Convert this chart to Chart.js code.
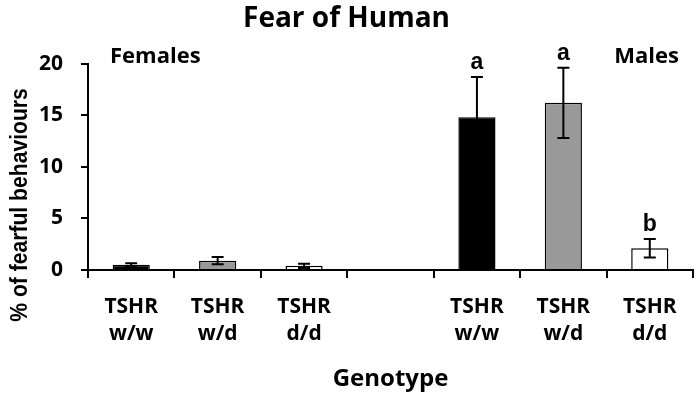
<!DOCTYPE html>
<html><head><meta charset="utf-8">
<script src="https://cdn.jsdelivr.net/npm/chart.js@4.4.0/dist/chart.umd.min.js"></script>
<style>html,body{margin:0;padding:0;background:#fff}#wrap{width:700px;height:402px}</style>
</head><body><div id="wrap"><canvas id="c"></canvas></div>
<script>
const categories = [["TSHR","w/w"],["TSHR","w/d"],["TSHR","d/d"],"",["TSHR","w/w"],["TSHR","w/d"],["TSHR","d/d"]];
const values = [0.5, 0.9, 0.4, null, 14.8, 16.2, 2.1];
const errors = [0.15, 0.35, 0.2, null, 3.9, 3.4, 0.9];
const sigLetters = ["", "", "", "", "a", "a", "b"];
const barColors = ["#000000", "#999999", "#ffffff", "#ffffff", "#000000", "#999999", "#ffffff"];
const groupLabels = ["Females", "Males"];
const yTitle = "% of fearful behaviours";
const FONT = "'Open Sans', Lato, sans-serif";
const ARIAL = "'Liberation Sans', Arial, sans-serif";

const extras = {
  id: 'extras',
  afterDatasetsDraw(chart) {
    const ctx = chart.ctx, x = chart.scales.x, y = chart.scales.y;
    ctx.save();
    ctx.strokeStyle = '#000'; ctx.lineWidth = 2;
    values.forEach((v, i) => {
      if (v == null) return;
      const cx = x.getPixelForValue(i);
      const yt = y.getPixelForValue(v + errors[i]);
      const yb = y.getPixelForValue(Math.max(0, v - errors[i]));
      ctx.beginPath();
      ctx.moveTo(cx, yt); ctx.lineTo(cx, yb);
      ctx.moveTo(cx - 6, yt); ctx.lineTo(cx + 6, yt);
      ctx.moveTo(cx - 6, yb); ctx.lineTo(cx + 6, yb);
      ctx.stroke();
    });
    ctx.fillStyle = '#000';
    ctx.font = "bold 23px " + ARIAL;
    ctx.textAlign = 'center'; ctx.textBaseline = 'alphabetic';
    values.forEach((v, i) => {
      if (!sigLetters[i]) return;
      const cx = x.getPixelForValue(i);
      const yt = y.getPixelForValue(v + errors[i]);
      ctx.fillText(sigLetters[i], cx, yt - 8);
    });
    ctx.font = "bold 22px " + FONT;
    ctx.textBaseline = 'middle';
    ctx.textAlign = 'left';
    ctx.fillText(groupLabels[0], 110, 57);
    ctx.textAlign = 'right';
    ctx.fillText(groupLabels[1], 679, 57);
    // y axis title
    ctx.save();
    ctx.font = "bold 24px " + ARIAL;
    ctx.translate(27, 205);
    ctx.rotate(-Math.PI / 2);
    ctx.scale(0.88, 1);
    ctx.textAlign = 'center'; ctx.textBaseline = 'alphabetic';
    ctx.fillText(yTitle, 0, 0);
    ctx.restore();
    ctx.restore();
  }
};

new Chart(document.getElementById('c'), {
  type: 'bar',
  data: {
    labels: categories,
    datasets: [{
      data: values,
      backgroundColor: barColors,
      borderColor: '#000',
      borderWidth: 1.5,
      categoryPercentage: 1,
      barPercentage: 0.43
    }]
  },
  options: {
    responsive: true, maintainAspectRatio: false, animation: false,
    devicePixelRatio: 1,
    layout: { padding: { left: 0, right: 7, top: 0, bottom: 0 } },
    plugins: {
      legend: { display: false }, tooltip: { enabled: false },
      title: { display: true, text: 'Fear of Human', color: '#000',
               font: { family: FONT, size: 28, weight: 'bold' }, padding: { top: 2, bottom: 28 } }
    },
    scales: {
      x: {
        offset: true,
        grid: { offset: true, drawOnChartArea: false, tickLength: 8, color: '#000', lineWidth: 2 },
        border: { color: '#000', width: 2 },
        ticks: { color: '#000', font: { family: FONT, size: 21, weight: 'bold', lineHeight: 1.3 }, padding: 15, maxRotation: 0, autoSkip: false },
        title: { display: true, text: 'Genotype', color: '#000', font: { family: FONT, size: 24, weight: 'bold' }, padding: { top: 0, bottom: 8 } },
        afterFit(s) { s.height = 132; }
      },
      y: {
        min: 0, max: 20,
        grid: { drawOnChartArea: false, tickLength: 7, color: '#000', lineWidth: 2 },
        border: { color: '#000', width: 2 },
        ticks: { stepSize: 5, color: '#000', font: { family: FONT, size: 21, weight: 'bold' }, padding: 18 },
        afterFit(s) { s.width = 88; }
      }
    }
  },
  plugins: [extras]
});
</script></body></html>
